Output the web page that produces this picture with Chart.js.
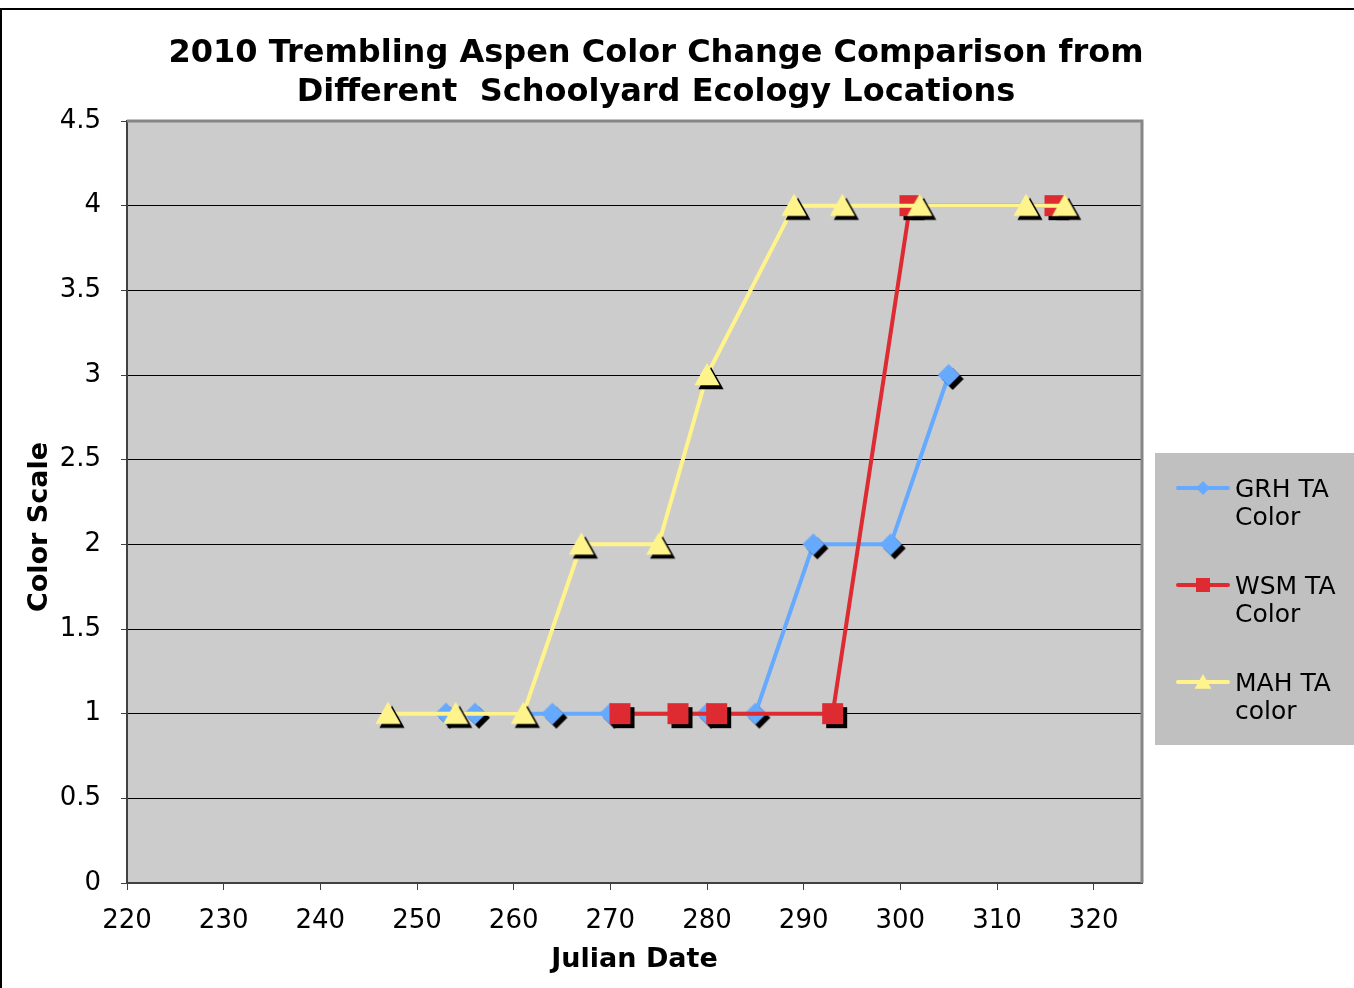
<!DOCTYPE html>
<html>
<head>
<meta charset="utf-8">
<title>2010 Trembling Aspen Color Change Comparison</title>
<script src="https://cdn.jsdelivr.net/npm/chart.js@4.4.1/dist/chart.umd.min.js"></script>
<style>
  html, body { margin: 0; padding: 0; background: #ffffff; }
  #wrap { position: relative; width: 1354px; height: 988px; }
  canvas { display: block; }
</style>
</head>
<body>
<div id="wrap"><canvas id="chart" width="1354" height="988"></canvas></div>
<script>
// Julian dates and colour-scale readings for each schoolyard site
const grhDates  = [253, 256, 264, 270, 280, 285, 291, 299, 305];
const grhValues = [1, 1, 1, 1, 1, 1, 2, 2, 3];

const wsmDates  = [271, 277, 281, 293, 301, 316];
const wsmValues = [1, 1, 1, 1, 4, 4];

const mahDates  = [247, 254, 261, 267, 275, 280, 289, 294, 302, 313, 317];
const mahValues = [1, 1, 1, 2, 2, 3, 4, 4, 4, 4, 4];

const seriesLabels = ['GRH TA Color', 'WSM TA Color', 'MAH TA color'];
const legendLines  = [['GRH TA', 'Color'], ['WSM TA', 'Color'], ['MAH TA', 'color']];
const titleLines   = ['2010 Trembling Aspen Color Change Comparison from', 'Different  Schoolyard Ecology Locations'];
const xTickValues  = [220, 230, 240, 250, 260, 270, 280, 290, 300, 310, 320];
const yTickValues  = [0, 0.5, 1, 1.5, 2, 2.5, 3, 3.5, 4, 4.5];

const BLUE = '#66AAFF', RED = '#DD2B31', YELLOW = '#FFF48C';
const FONT = '"DejaVu Sans", Verdana, sans-serif';

function pairs(xs, ys) { return xs.map((x, i) => ({ x: x, y: ys[i] })); }

// Marker shapes drawn around (0,0)
function shapePath(ctx, kind, r) {
  ctx.beginPath();
  if (kind === 'diamond') {
    ctx.moveTo(0, -r); ctx.lineTo(r, 0); ctx.lineTo(0, r); ctx.lineTo(-r, 0);
  } else if (kind === 'square') {
    ctx.rect(-r, -r, 2 * r, 2 * r);
  } else {
    ctx.moveTo(0, -r); ctx.lineTo(r * 1.05, r * 0.85); ctx.lineTo(-r * 1.05, r * 0.85);
  }
  ctx.closePath();
}

// Marker image with a hard black drop shadow offset down-right
function markerImage(kind, r, color) {
  const size = 2 * (r + 8);
  const c = document.createElement('canvas');
  c.width = size; c.height = size;
  const g = c.getContext('2d');
  const m = size / 2;
  g.save(); g.translate(m + 4, m + 4); shapePath(g, kind, r); g.fillStyle = '#000'; g.fill(); g.restore();
  g.save(); g.translate(m, m); shapePath(g, kind, r); g.fillStyle = color; g.fill(); g.restore();
  return c;
}

const markerKinds = ['diamond', 'square', 'triangle'];
const markerSizes = [11, 10.5, 12];
const colors = [BLUE, RED, YELLOW];

// Plot background, outer frame, plot border, titles and legend
const framePlugin = {
  id: 'frame',
  beforeDraw(chart) {
    const ctx = chart.ctx, a = chart.chartArea;
    ctx.save();
    ctx.fillStyle = '#ffffff';
    ctx.fillRect(0, 0, chart.width, chart.height);
    ctx.strokeStyle = '#000';
    ctx.lineWidth = 2;
    ctx.strokeRect(1, 9, chart.width + 10, chart.height + 10);
    ctx.fillStyle = '#CCCCCC';
    ctx.fillRect(a.left, a.top, a.right - a.left, a.bottom - a.top);
    ctx.restore();
  },
  beforeDatasetsDraw(chart) {
    const ctx = chart.ctx, a = chart.chartArea;
    ctx.save();
    ctx.strokeStyle = '#868686';
    ctx.lineWidth = 3;
    ctx.beginPath();
    ctx.moveTo(a.left, a.top); ctx.lineTo(a.right, a.top); ctx.lineTo(a.right, a.bottom);
    ctx.stroke();
    ctx.restore();
  },
  afterDraw(chart) {
    const ctx = chart.ctx;
    ctx.save();
    // chart title
    ctx.fillStyle = '#000';
    ctx.font = 'bold 32px ' + FONT;
    ctx.textAlign = 'center';
    ctx.textBaseline = 'alphabetic';
    ctx.fillText(titleLines[0], 656, 62);
    ctx.fillText(titleLines[1], 656, 101);
    // value axis title
    ctx.font = 'bold 27px ' + FONT;
    ctx.translate(47, 527);
    ctx.rotate(-Math.PI / 2);
    ctx.fillText('Color Scale', 0, 0);
    ctx.restore();

    // legend box
    ctx.save();
    ctx.fillStyle = '#C0C0C0';
    ctx.fillRect(1155, 453, 220, 292);
    ctx.font = '25px ' + FONT;
    ctx.textAlign = 'left';
    ctx.textBaseline = 'alphabetic';
    chart.data.datasets.forEach((ds, i) => {
      const y = 488 + i * 97;
      ctx.strokeStyle = ds.borderColor;
      ctx.lineWidth = 4;
      ctx.lineCap = 'round';
      ctx.beginPath(); ctx.moveTo(1178, y); ctx.lineTo(1228, y); ctx.stroke();
      ctx.save();
      ctx.translate(1203, y);
      shapePath(ctx, markerKinds[i], markerKinds[i] === 'triangle' ? 8 : 7);
      ctx.fillStyle = ds.borderColor;
      ctx.fill();
      ctx.restore();
      ctx.fillStyle = '#000';
      ctx.fillText(legendLines[i][0], 1235, y + 9);
      ctx.fillText(legendLines[i][1], 1235, y + 37);
    });
    ctx.restore();
  }
};

const datasets = [
  { label: seriesLabels[0], data: pairs(grhDates, grhValues), order: 3 },
  { label: seriesLabels[1], data: pairs(wsmDates, wsmValues), order: 2 },
  { label: seriesLabels[2], data: pairs(mahDates, mahValues), order: 1 }
].map((ds, i) => Object.assign(ds, {
  borderColor: colors[i],
  backgroundColor: colors[i],
  borderWidth: 4,
  tension: 0,
  fill: false,
  pointStyle: markerImage(markerKinds[i], markerSizes[i], colors[i]),
  pointRadius: 12,
  pointHoverRadius: 12
}));

new Chart(document.getElementById('chart'), {
  type: 'line',
  data: { datasets: datasets },
  plugins: [framePlugin],
  options: {
    responsive: false,
    animation: false,
    events: [],
    layout: { padding: { left: 0, top: 121, right: 212, bottom: 0 } },
    plugins: {
      legend: { display: false },
      title: { display: false },
      tooltip: { enabled: false }
    },
    scales: {
      x: {
        type: 'linear',
        min: 220,
        max: 325,
        afterBuildTicks(axis) { axis.ticks = xTickValues.map(v => ({ value: v })); },
        afterFit(axis) { axis.height = 105; },
        ticks: {
          color: '#000',
          font: { family: FONT, size: 26 },
          padding: 16,
          maxRotation: 0,
          autoSkip: false
        },
        grid: { drawOnChartArea: false, drawTicks: true, tickLength: 7, color: '#404040', lineWidth: 1 },
        border: { display: true, color: '#404040', width: 2 },
        title: {
          display: true,
          text: 'Julian Date',
          color: '#000',
          font: { family: FONT, size: 27, weight: 'bold' },
          padding: { top: 0, bottom: 12 }
        }
      },
      y: {
        type: 'linear',
        min: 0,
        max: 4.5,
        afterBuildTicks(axis) { axis.ticks = yTickValues.map(v => ({ value: v })); },
        afterFit(axis) { axis.width = 127; },
        ticks: {
          color: '#000',
          font: { family: FONT, size: 26 },
          padding: 20,
          callback: v => String(v)
        },
        grid: { color: '#000', lineWidth: 1, drawTicks: true, tickLength: 6, tickColor: '#404040' },
        border: { display: true, color: '#404040', width: 2 }
      }
    }
  }
});
</script>
</body>
</html>
